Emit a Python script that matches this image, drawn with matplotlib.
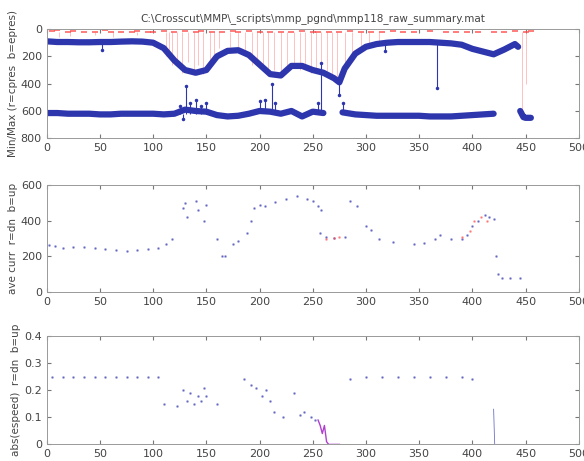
import numpy as np
import matplotlib
matplotlib.use("Agg")
import matplotlib.pyplot as plt

TITLE = r"C:\Crosscut\MMP\_scripts\mmp_pgnd\mmp118_raw_summary.mat"

# ── panel 1: min/max pressure ────────────────────────────────────────────
blue_hi_x = [0, 10, 20, 30, 40, 50, 60, 70, 80, 90, 100, 110, 120, 130, 140,
             150, 160, 170, 180, 190, 200, 210, 220, 230, 240, 250, 260, 270,
             275, 280, 290, 300, 310, 320, 330, 340, 350, 360, 370, 380, 390,
             400, 410, 420, 430, 440, 443]
blue_hi_y = [90, 95, 95, 97, 97, 95, 95, 92, 90, 92, 100, 140, 230, 300, 320,
             300, 200, 160, 155, 190, 260, 330, 340, 270, 270, 300, 320, 360,
             390, 290, 180, 130, 110, 100, 95, 95, 95, 95, 100, 105, 115,
             145, 165, 185, 150, 110, 130]

blue_lo_x = [0, 10, 20, 30, 40, 50, 60, 70, 80, 90, 100, 110, 120, 130, 140,
             150, 160, 170, 180, 190, 200, 210, 220, 230, 240, 250, 260]
blue_lo_y = [615, 615, 620, 620, 620, 625, 625, 620, 620, 620, 620, 625, 620,
             590, 600, 605, 630, 640, 635, 620, 600, 605, 620, 600, 640, 605, 615]
blue_lo2_x = [278, 290, 300, 310, 320, 330, 340, 350, 360, 370, 380, 390, 400,
              410, 420]
blue_lo2_y = [610, 625, 630, 635, 635, 635, 635, 635, 640, 640, 640, 635, 630,
              625, 620]
blue_end_x = [445, 448, 450, 452, 455]
blue_end_y = [600, 645, 650, 650, 650]

# blue excursions (x, from, to)
blip_x = [52, 125, 128, 131, 135, 140, 145, 150, 200, 205, 212, 215, 255, 258,
          318, 367, 275, 278]
blip_a = [100, 620, 620, 620, 620, 620, 620, 620, 600, 600, 600, 600, 620, 600,
          100, 100, 390, 620]
blip_b = [150, 560, 660, 420, 540, 520, 560, 540, 530, 520, 400, 540, 540, 250,
          160, 430, 480, 540]

red_top_x = [5, 10, 20, 25, 35, 45, 55, 60, 70, 80, 85, 95, 100, 110, 120, 130,
             140, 145, 155, 165, 175, 180, 190, 200, 210, 220, 230, 240, 250,
             255, 265, 275, 285, 295, 305, 315, 325, 335, 345, 360, 375, 385,
             395, 405, 420, 430, 440, 450, 455]
red_top_y = [15, 10, 20, 15, 20, 20, 10, 20, 20, 20, 15, 20, 20, 15, 20, 15,
             20, 15, 20, 20, 15, 20, 15, 20, 20, 20, 20, 15, 20, 20, 20, 20,
             15, 20, 20, 20, 15, 20, 20, 15, 20, 20, 20, 20, 20, 25, 15, 20, 15]

red_spk_x = [12, 22, 45, 62, 85, 112, 115, 118, 122, 127, 133, 138, 142, 147,
             153, 157, 162, 172, 180, 186, 193, 198, 203, 208, 214, 220, 226,
             232, 238, 243, 248, 253, 258, 263, 268, 273, 280, 287, 295, 303,
             312, 447, 450]
red_spk_y = [60, 50, 40, 60, 40, 200, 150, 260, 230, 320, 240, 300, 260, 330,
             270, 180, 140, 130, 160, 200, 260, 230, 300, 340, 300, 330, 290,
             250, 300, 280, 320, 300, 330, 310, 370, 360, 250, 200, 150, 120,
             110, 620, 400]

# ── panel 2: average current ─────────────────────────────────────────────
up_cur_x = [2, 8, 15, 25, 35, 45, 55, 65, 75, 85, 95, 105, 112, 118, 128, 130,
            132, 140, 142, 148, 150, 160, 165, 168, 175, 180, 188, 192, 195,
            200, 205, 215, 225, 235, 245, 250, 255, 257, 258, 262, 270, 280,
            285, 292, 300, 305, 312, 325, 345, 355, 365, 370, 380, 390, 395,
            400, 405, 412, 416, 420, 422, 424, 428, 435, 445]
up_cur_y = [265, 258, 250, 255, 255, 250, 240, 235, 232, 235, 240, 245, 270,
            300, 470, 500, 420, 510, 460, 400, 490, 300, 200, 205, 270, 285,
            330, 400, 470, 490, 480, 505, 520, 540, 520, 510, 480, 330, 460,
            310, 305, 310, 510, 480, 370, 350, 300, 280, 270, 275, 295, 320,
            300, 300, 320, 370, 400, 430, 420, 410, 200, 100, 82, 80, 80]
dn_cur_x = [262, 270, 275, 390, 398, 402, 408, 414]
dn_cur_y = [300, 305, 310, 310, 340, 400, 420, 400]

# ── panel 3: absolute speed ──────────────────────────────────────────────
up_spd_x = [5, 15, 25, 35, 45, 55, 65, 75, 85, 95, 105, 110, 122, 128, 132,
            135, 138, 142, 145, 148, 150, 160, 185, 192, 197, 202, 206, 210,
            214, 222, 232, 238, 242, 248, 252, 285, 300, 315, 330, 345, 360,
            375, 390, 400]
up_spd_y = [0.25, 0.25, 0.25, 0.25, 0.25, 0.25, 0.25, 0.25, 0.25, 0.25, 0.25,
            0.15, 0.14, 0.20, 0.16, 0.19, 0.15, 0.18, 0.16, 0.21, 0.18, 0.15,
            0.24, 0.22, 0.21, 0.18, 0.20, 0.16, 0.12, 0.10, 0.19, 0.11, 0.12,
            0.10, 0.09, 0.24, 0.25, 0.25, 0.25, 0.25, 0.25, 0.25, 0.25, 0.24]
dn_spd_x = [255, 257, 259, 261, 263, 265, 270, 275]
dn_spd_y = [0.09, 0.07, 0.04, 0.07, 0.01, 0.0, 0.0, 0.0]
end_spd_x = [420, 421, 425, 430, 440, 450]
end_spd_y = [0.13, 0.0, 0.0, 0.0, 0.0, 0.0]

BLUE = "#2e36ad"
RED = "#ff4a4a"
PURPLE = "#b040d0"


def style(ax, ylim, yticks, ylabel):
    ax.set_xlim(0, 500)
    ax.set_xticks(range(0, 501, 50))
    ax.set_ylim(*ylim)
    ax.set_yticks(yticks)
    ax.tick_params(direction="in", labelsize=8, length=3, color="#777777",
                   top=True, right=True, labelcolor="#444444")
    for s in ax.spines.values():
        s.set_color("#999999")
        s.set_linewidth(0.7)
    ax.set_ylabel(ylabel, fontsize=7.5, color="#444444", labelpad=2)


fig = plt.figure(figsize=(5.84, 4.61), dpi=100)
ax1 = fig.add_axes([0.080, 0.700, 0.911, 0.237])
ax2 = fig.add_axes([0.080, 0.366, 0.911, 0.233])
ax3 = fig.add_axes([0.080, 0.036, 0.911, 0.235])

# panel 1
ax1.vlines(red_spk_x, 20, red_spk_y, color=RED, lw=0.4, alpha=0.6)
ax1.plot(red_top_x, red_top_y, ls="none", marker="_", ms=5, mew=1.2,
         color=RED, alpha=0.85)
ax1.vlines(blip_x, blip_a, blip_b, color=BLUE, lw=0.8)
for xs, ys in [(blue_hi_x, blue_hi_y), (blue_lo_x, blue_lo_y),
               (blue_lo2_x, blue_lo2_y), (blue_end_x, blue_end_y)]:
    ax1.plot(xs, ys, color=BLUE, lw=4.5, solid_capstyle="round")
ax1.plot(blip_x, blip_b, ls="none", marker=".", ms=3, color=BLUE)
ax1.invert_yaxis()
style(ax1, (800, 0), [0, 200, 400, 600, 800], "Min/Max (r=cpres  b=epres)")
ax1.set_title(TITLE, fontsize=7.5, color="#444444", pad=6)

# panel 2
ax2.plot(up_cur_x, up_cur_y, ls="none", marker=".", ms=1.8, color=BLUE,
         alpha=0.5)
ax2.plot(dn_cur_x, dn_cur_y, ls="none", marker=".", ms=1.8, color=RED,
         alpha=0.5)
style(ax2, (0, 600), [0, 200, 400, 600], "ave curr  r=dn  b=up")

# panel 3
ax3.plot(up_spd_x, up_spd_y, ls="none", marker=".", ms=1.8, color=BLUE,
         alpha=0.5)
ax3.plot(dn_spd_x, dn_spd_y, color=PURPLE, lw=1.0)
ax3.plot(end_spd_x, end_spd_y, color=BLUE, lw=0.6, alpha=0.7)
style(ax3, (0, 0.4), [0, 0.1, 0.2, 0.3, 0.4], "abs(espeed)  r=dn  b=up")
ax3.set_yticklabels(["0", "0.1", "0.2", "0.3", "0.4"])

fig.savefig("out.png", dpi=100)
